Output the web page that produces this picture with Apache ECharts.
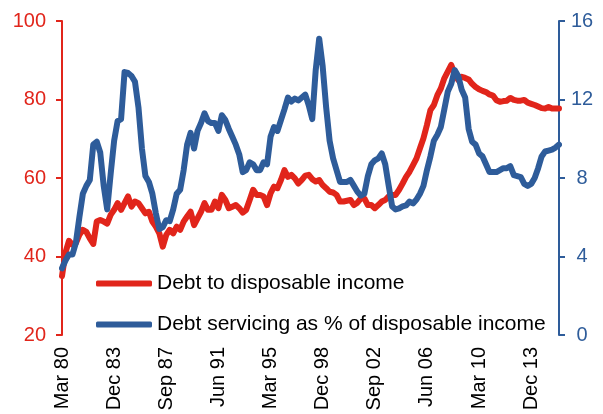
<!DOCTYPE html>
<html>
<head>
<meta charset="utf-8">
<script src="https://cdn.jsdelivr.net/npm/echarts@6/dist/echarts.min.js"></script>
<style>
  html, body { margin: 0; padding: 0; background: #fff; }
  #chart { width: 603px; height: 414px; }
</style>
</head>
<body>
<div id="chart"></div>
<script>
// quarterly, Mar 80 .. Dec 15
var quarterNames = ['Mar', 'Jun', 'Sep', 'Dec'];
var firstYear = 1980;
var lastYear = 2015;

var debtToIncome = [
  35, 41, 44, 43, 43.4, 45.5, 46.8, 46.3, 44.6, 43.2,
  48.9, 49.3, 48.9, 48.4, 50.6, 51.9, 53.6, 51.9, 53.6, 55.3,
  52.7, 54, 53.6, 52.3, 51, 51.4, 48.9, 47.6, 45.9, 42.5,
  45.5, 46.8, 45.9, 47.6, 46.8, 48.9, 50.2, 51.4, 48, 49.7,
  51.4, 53.6, 51.9, 51.9, 54, 52.3, 55.7, 54.4, 52.3, 52.7,
  53.1, 52.3, 51.2, 51.9, 54.4, 57, 55.7, 55.7, 55.3, 53.1,
  56.1, 57.8, 57.4, 59.5, 62, 60.3, 60.8, 59.9, 58.6, 59.5,
  60.6, 60.8, 59.7, 59.1, 59.5, 58.2, 57.4, 56.5, 56.3, 55.7,
  54, 54, 54.2, 54.4, 53.1, 53.7, 54.8, 54.8, 53.1, 53.1,
  52.3, 53.1, 54, 54.4, 55.3, 55.7, 55.7, 57, 58.6, 60.3,
  61.6, 63.3, 65, 67.6, 70.1, 73.5, 77.3, 78.6, 81.1, 82.8,
  85.4, 87.1, 88.8, 86.5, 85, 85.8, 85.5, 85.1, 84, 83.2,
  82.6, 82.2, 81.9, 81.3, 81, 79.8, 79.4, 79.6, 79.7, 80.4,
  79.9, 79.7, 79.7, 79.9, 79.2, 78.9, 78.6, 78.2, 77.8, 77.7,
  78.1, 77.7, 77.7, 77.7
];

var debtServicing = [
  3.4, 3.8, 4.1, 4.1, 4.7, 6.0, 7.2, 7.6, 7.9, 9.7,
  9.85, 9.3, 7.6, 6.4, 8.2, 9.9, 10.9, 11.0, 13.4, 13.35,
  13.2, 12.9, 11.6, 9.5, 8.1, 7.8, 7.2, 6.2, 5.4, 5.5,
  5.85, 5.8, 6.4, 7.2, 7.4, 8.4, 9.7, 10.3, 9.5, 10.4,
  10.8, 11.3, 10.9, 10.8, 10.8, 10.4, 11.2, 10.95, 10.5, 10.1,
  9.7, 9.2, 8.3, 8.4, 8.8, 8.7, 8.4, 8.4, 8.8, 8.7,
  10.1, 10.6, 10.4, 10.95, 11.5, 12.1, 11.9, 12.05, 11.95, 12.1,
  12.25, 11.7, 11.0, 13.5, 15.1, 13.7, 11.6, 9.9, 9.0, 8.4,
  7.8, 7.8, 7.8, 7.9, 7.6, 7.3, 7.1, 7.2, 8.1, 8.7,
  8.9, 9.0, 9.25, 8.7, 7.6, 6.55, 6.4, 6.45, 6.55, 6.6,
  6.8, 6.7, 6.9, 7.2, 7.6, 8.4, 9.1, 9.9, 10.2, 10.6,
  11.5, 12.4, 12.8, 13.5, 13.2, 12.5, 12.1, 10.5, 9.85, 9.7,
  9.25, 9.1, 8.7, 8.3, 8.3, 8.3, 8.4, 8.5, 8.5, 8.6,
  8.15, 8.1, 8.05, 7.7, 7.6, 7.7, 8.0, 8.5, 9.1, 9.35,
  9.4, 9.45, 9.55, 9.7
];

var quarters = [];
for (var y = firstYear; y <= lastYear; y++) {
  for (var q = 0; q < 4; q++) {
    quarters.push(quarterNames[q] + ' ' + String(y).slice(2));
  }
}

var red = '#E1251B';
var blue = '#2E5C9A';
var font = 'Liberation Sans, Arial, sans-serif';

var chart = echarts.init(document.getElementById('chart'));
chart.setOption({
  animation: false,
  grid: { left: 62, right: 44, top: 21, bottom: 79 },
  legend: {
    orient: 'vertical',
    left: 91,
    top: 268,
    icon: 'roundRect',
    itemWidth: 56,
    itemHeight: 6,
    itemGap: 20,
    textStyle: { fontFamily: font, fontSize: 21, color: '#000' },
    data: ['Debt to disposable income', 'Debt servicing as % of disposable income']
  },
  xAxis: {
    type: 'category',
    data: quarters,
    boundaryGap: false,
    axisLine: { show: false },
    axisTick: { show: false },
    axisLabel: {
      interval: 14,
      rotate: 90,
      margin: 12,
      fontFamily: font,
      fontSize: 20,
      color: '#000'
    }
  },
  yAxis: [
    {
      type: 'value',
      min: 20,
      max: 100,
      interval: 20,
      position: 'left',
      splitLine: { show: false },
      axisLine: { show: true, lineStyle: { color: red, width: 2 } },
      axisTick: { show: true, length: 6, lineStyle: { color: red, width: 2 } },
      axisLabel: { margin: 16, fontFamily: font, fontSize: 20, color: red }
    },
    {
      type: 'value',
      min: 0,
      max: 16,
      interval: 4,
      position: 'right',
      splitLine: { show: false },
      axisLine: { show: true, lineStyle: { color: blue, width: 2 } },
      axisTick: { show: true, length: 6, lineStyle: { color: blue, width: 2 } },
      axisLabel: { margin: 23, align: 'center', fontFamily: font, fontSize: 20, color: blue }
    }
  ],
  series: [
    {
      name: 'Debt to disposable income',
      type: 'line',
      yAxisIndex: 0,
      data: debtToIncome,
      symbol: 'none',
      color: red,
      lineStyle: { width: 6, color: red, cap: 'round', join: 'round' }
    },
    {
      name: 'Debt servicing as % of disposable income',
      type: 'line',
      yAxisIndex: 1,
      data: debtServicing,
      symbol: 'none',
      color: blue,
      lineStyle: { width: 6, color: blue, cap: 'round', join: 'round' }
    }
  ]
});
</script>
</body>
</html>
